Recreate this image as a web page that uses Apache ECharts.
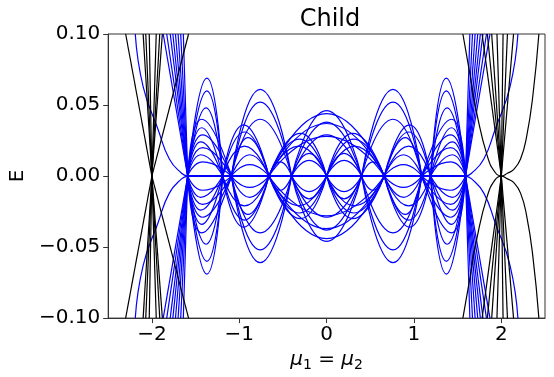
<!DOCTYPE html>
<html>
<head>
<meta charset="utf-8">
<script src="https://cdn.jsdelivr.net/npm/echarts@6/dist/echarts.min.js"></script>
<style>html,body{margin:0;padding:0;background:#fff}#c{width:554px;height:377px}</style>
</head>
<body>
<div id="c"></div>
<script>
// ---- data (upper half, x <= 0; the spectrum is symmetric in E) ----
const xTicks = [-2, -1, 0, 1, 2];
const yTicks = [-0.1, -0.05, 0, 0.05, 0.1];

// blue lobes: [startX, peakX, endX, peakE]  (mirrored to x>0 and to E<0)
const blueLobes = [
  [-1.59, -1.37, -1.19, 0.069],
  [-1.59, -1.37, -1.19, 0.060],
  [-1.59, -1.38, -1.19, 0.048],
  [-1.59, -1.43, -1.09, 0.040],
  [-1.59, -1.43, -1.19, 0.034],
  [-1.59, -1.42, -1.09, 0.029],
  [-1.59, -1.44, -1.19, 0.024],
  [-1.59, -1.42, -1.09, 0.020],
  [-1.59, -1.44, -1.19, 0.015],
  [-1.59, -1.42, -1.09, 0.010],
  [-1.19, -1.14, -1.09, 0.006],
  [-1.09, -0.76, -0.40, 0.061],
  [-1.09, -0.76, -0.40, 0.052],
  [-1.09, -0.76, -0.40, 0.040],
  [-1.19, -0.95, -0.66, 0.036],
  [-1.19, -0.94, -0.66, 0.031],
  [-1.09, -0.90, -0.66, 0.027],
  [-1.19, -0.94, -0.66, 0.021],
  [-1.09, -0.88, -0.66, 0.015],
  [-1.09, -0.88, -0.66, 0.008],
  [-0.66, -0.53, -0.40, 0.010],
  [-0.66, -0.30, 0.00, 0.030],
  [-0.66, -0.31, 0.00, 0.026],
  [-0.66, -0.32, 0.00, 0.021],
  [-0.40, -0.20, 0.00, 0.016],
  [-0.40, -0.20, 0.00, 0.011],
  [-0.40, 0.00, 0.40, 0.046],
  [-0.40, 0.00, 0.40, 0.038],
  [-0.40, 0.00, 0.40, 0.029],
  [-0.66, 0.00, 0.66, 0.044],
  [-0.66, 0.00, 0.66, 0.037],
  [-0.66, 0.00, 0.66, 0.028]
];
// blue steep lines from node (-1.59, 0) to the top edge at these x
const blueNodeX = -1.59;
const blueSteepTops = [-1.64, -1.67, -1.70, -1.73, -1.76, -1.79, -1.83, -1.87];
// blue curve approaching zero tangentially near the outer node
const blueTail = [[-2.19, 0.1], [-2.10, 0.063], [-1.93, 0.033], [-1.80, 0.012], [-1.66, 0.002], [-1.59, 0]];
// blue zero modes
const blueZero = [[-1.59, 0], [1.59, 0]];

// black V lines at x=-2 (vertex) reaching the top edge at these x
const blackLeftVertex = -2;
const blackLeftTops = [-2.30, -2.10, -2.07, -2.03, -1.95, -1.91, -1.88, -1.58];
// black V lines at x=2
const blackRightVertex = 2;
const blackRightTops = [1.78, 1.84, 1.89, 1.95, 2.02, 2.07, 2.14];
// black U-shaped curve at x=2
const blackU = [[1.56, 0.1], [1.64, 0.072], [1.72, 0.044], [1.84, 0.014], [1.93, 0.0025], [2.00, 0], [2.07, 0.002], [2.14, 0.0045], [2.22, 0.012], [2.29, 0.028], [2.36, 0.056], [2.43, 0.1]];

const BLUE = '#0000ff', BLACK = '#000000';
const series = [];
function addLine(pts, color, smooth, w) {
  series.push({
    type: 'line', data: pts, showSymbol: false, symbol: 'none', smooth: smooth,
    lineStyle: { color: color, width: w || 1.2 }, silent: true, animation: false, z: color === BLACK ? 3 : 2
  });
}
function bothHalves(pts, color, smooth) {
  addLine(pts, color, smooth);
  addLine(pts.map(p => [p[0], -p[1]]), color, smooth);
}
// blue lobes
blueLobes.forEach(l => {
  const pts = [[l[0], 0], [l[1], l[3]], [l[2], 0]];
  bothHalves(pts, BLUE, 0.55);
  if (!(l[1] === 0 && l[0] === -l[2])) {
    bothHalves(pts.map(p => [-p[0], p[1]]).reverse(), BLUE, 0.55);
  }
});
blueSteepTops.forEach(t => {
  bothHalves([[blueNodeX, 0], [t, 0.1]], BLUE, false);
  bothHalves([[-blueNodeX, 0], [-t, 0.1]], BLUE, false);
});
bothHalves(blueTail, BLUE, true);
bothHalves(blueTail.map(p => [-p[0], p[1]]).reverse(), BLUE, true);
addLine(blueZero, BLUE, false, 2);
// black
blackLeftTops.forEach(t => bothHalves([[blackLeftVertex, 0], [t, 0.1]], BLACK, false));
blackRightTops.forEach(t => bothHalves([[blackRightVertex, 0], [t, 0.1]], BLACK, false));
bothHalves(blackU, BLACK, true);

const FONT = 'DejaVu Sans';
const chart = echarts.init(document.getElementById('c'), null, { renderer: 'canvas' });
chart.setOption({
  animation: false,
  backgroundColor: '#fff',
  title: {
    text: 'Child', left: 325, top: 3, textAlign: 'center',
    textStyle: { fontFamily: FONT, fontSize: 24, fontWeight: 'normal', color: '#000' }
  },
  grid: { left: 105, right: 9, top: 34, bottom: 58, show: true, borderColor: '#333', borderWidth: 1, backgroundColor: 'transparent' },
  xAxis: {
    type: 'value', min: -2.5, max: 2.5,
    name: '{i|μ}{s|1}{n| = }{i|μ}{s|2}', nameLocation: 'middle', nameGap: 25,
    nameTextStyle: {
      fontFamily: FONT, fontSize: 20, color: '#000',
      rich: {
        i: { fontFamily: FONT, fontSize: 20, fontStyle: 'italic', color: '#000' },
        s: { fontFamily: FONT, fontSize: 14, color: '#000', padding: [10, 0, 0, 0] },
        n: { fontFamily: FONT, fontSize: 20, color: '#000' }
      }
    },
    splitLine: { show: false },
    axisLine: { show: true, onZero: false, lineStyle: { color: '#333', width: 1 } },
    axisTick: { show: true, inside: false, length: 5, customValues: xTicks, lineStyle: { color: '#333' } },
    axisLabel: {
      customValues: xTicks, margin: 7, fontFamily: FONT, fontSize: 20, color: '#000',
      formatter: v => (v < 0 ? '\u2212' : '') + Math.abs(v)
    }
  },
  yAxis: {
    type: 'value', min: -0.1, max: 0.1, interval: 0.05,
    name: 'E', nameLocation: 'middle', nameGap: 74, nameRotate: 90,
    nameTextStyle: { fontFamily: FONT, fontSize: 20, color: '#000' },
    splitLine: { show: false },
    axisLine: { show: true, onZero: false, lineStyle: { color: '#333', width: 1 } },
    axisTick: { show: true, inside: false, length: 5, lineStyle: { color: '#333' } },
    axisLabel: {
      margin: 8, fontFamily: FONT, fontSize: 20, color: '#000',
      formatter: v => (v < -1e-9 ? '\u2212' : '') + Math.abs(v).toFixed(2)
    }
  },
  series: series
});
</script>
</body>
</html>
